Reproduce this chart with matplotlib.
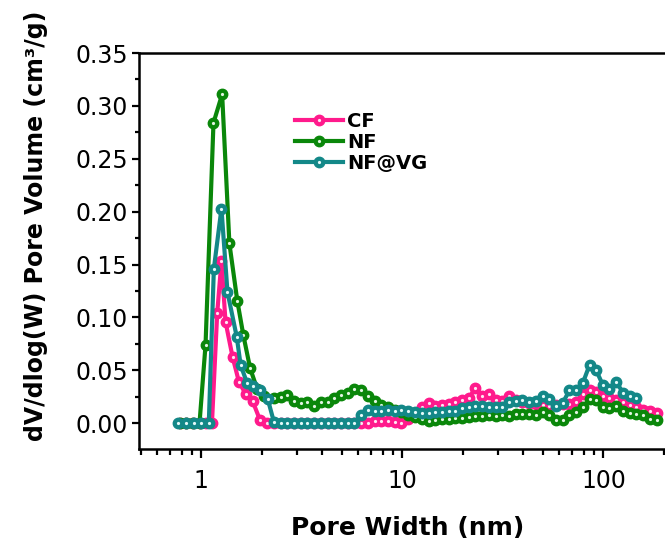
import matplotlib
matplotlib.use("Agg")
import matplotlib.pyplot as plt
from matplotlib.ticker import MultipleLocator, LogLocator, FuncFormatter, NullFormatter, FormatStrFormatter
from matplotlib.legend_handler import HandlerTuple

#pore widths (nm) shared by the tails of the three curves
grid_width = [2.13, 2.30, 2.48, 2.68, 2.89, 3.12, 3.37, 3.64, 3.93, 4.25,
              4.59, 4.96, 5.35, 5.78, 6.24, 6.74, 7.28, 7.86, 8.49, 9.17,
              9.90, 10.7, 11.5, 12.5, 13.5, 14.5, 15.7, 17.0, 18.3, 19.8,
              21.4, 23.1, 24.9, 26.9, 29.1, 31.4, 33.9, 36.6, 39.5, 42.7,
              46.1, 49.8, 53.8, 58.1, 62.7, 67.7, 73.2, 79.0, 85.3, 92.1,
              99.5, 107, 116, 125, 135, 146, 158, 170, 184]

#CF
cf_head_width = [0.78, 0.84, 0.91, 0.98, 1.06, 1.13, 1.20, 1.26, 1.32, 1.43, 1.54, 1.66, 1.80, 1.96]
cf_head = [0, 0, 0, 0, 0, 0, 0.104, 0.153, 0.096, 0.063, 0.039, 0.028, 0.021, 0.003]
cf_tail = [0, 0, 0, 0, 0, 0, 0, 0, 0, 0,
           0, 0, 0, 0, 0, 0, 0.002, 0.002, 0.002, 0.001,
           0.000, 0.004, 0.010, 0.015, 0.019, 0.016, 0.017, 0.018, 0.020, 0.022,
           0.024, 0.033, 0.026, 0.028, 0.022, 0.021, 0.026, 0.022, 0.020, 0.019,
           0.018, 0.017, 0.016, 0.017, 0.018, 0.018, 0.020, 0.028, 0.031, 0.030,
           0.026, 0.024, 0.022, 0.020, 0.017, 0.015, 0.013, 0.012, 0.010]

#NF
nf_head_width = [0.78, 0.84, 0.91, 0.98, 1.05, 1.15, 1.27, 1.38, 1.51, 1.62, 1.75, 1.90, 2.05]
nf_head = [0, 0, 0, 0, 0.074, 0.284, 0.311, 0.170, 0.116, 0.083, 0.052, 0.032, 0.026]
nf_tail = [0.024, 0.025, 0.027, 0.021, 0.019, 0.020, 0.016, 0.020, 0.020, 0.024,
           0.027, 0.029, 0.032, 0.031, 0.026, 0.021, 0.017, 0.015, 0.013, 0.011,
           0.008, 0.006, 0.004, 0.002, 0.003, 0.004, 0.004, 0.005, 0.005, 0.006,
           0.007, 0.007, 0.008, 0.007, 0.008, 0.007, 0.009, 0.009, 0.009, 0.008,
           0.011, 0.008, 0.003, 0.003, 0.008, 0.011, 0.015, 0.023, 0.022, 0.015,
           0.014, 0.016, 0.012, 0.010, 0.009, 0.008, 0.004, 0.003]

#NF@VG
vg_head_width = [0.77, 0.84, 0.915, 1.0, 1.09, 1.155, 1.26, 1.35, 1.50, 1.57, 1.69, 1.81, 1.96, 2.14, 2.30]
vg_head = [0, 0, 0, 0, 0, 0.146, 0.203, 0.124, 0.082, 0.055, 0.038, 0.035, 0.031, 0.023, 0.001]
vg_tail = [0, 0, 0, 0, 0, 0, 0, 0, 0, 0, 0, 0,
           0.008, 0.013, 0.012, 0.012, 0.013, 0.012, 0.013, 0.012, 0.011, 0.010,
           0.010, 0.011, 0.011, 0.012, 0.012, 0.014, 0.015, 0.016, 0.016, 0.015,
           0.015, 0.015, 0.020, 0.021, 0.022, 0.020, 0.021, 0.026, 0.023, 0.016,
           0.019, 0.031, 0.031, 0.038, 0.055, 0.050, 0.036, 0.032, 0.039, 0.029,
           0.026, 0.024]

cf_x = cf_head_width + grid_width
cf_y = cf_head + cf_tail
nf_x = nf_head_width + grid_width[1:]
nf_y = nf_head + nf_tail
vg_x = vg_head_width + grid_width[2:56]
vg_y = vg_head + vg_tail

fig = plt.figure(figsize=(6.65, 5.42), dpi=100)
ax = fig.add_axes([0.209, 0.1716, 0.8426, 0.7306])

#line with ball markers (colored ball + small light spot)
def draw(x, y, color, shine):
    line, = ax.plot(x, y, color=color, lw=3, marker='o', ms=7.5, mfc=color, mec=color)
    dot, = ax.plot(x, y, ls='none', marker='o', ms=2.3, mfc=shine, mec='none')
    return (line, dot)

h_cf = draw(cf_x, cf_y, '#FF1A8C', '#FFE6F2')
h_nf = draw(nf_x, nf_y, '#0A870A', '#E2F5E2')
h_vg = draw(vg_x, vg_y, '#138888', '#E4FAFA')

ax.set_xscale('log')
ax.set_xlim(0.49, 300)
ax.set_ylim(-0.0243, 0.35)

ax.xaxis.set_major_locator(LogLocator(base=10))
ax.xaxis.set_minor_locator(LogLocator(base=10, subs=(2, 3, 4, 5, 6, 7, 8, 9)))
ax.xaxis.set_major_formatter(FuncFormatter(lambda v, p: f"{v:g}"))
ax.xaxis.set_minor_formatter(NullFormatter())
ax.yaxis.set_major_locator(MultipleLocator(0.05))
ax.yaxis.set_minor_locator(MultipleLocator(0.025))
ax.yaxis.set_major_formatter(FormatStrFormatter('%.2f'))

for s in ax.spines.values():
    s.set_linewidth(1.8)
ax.spines['right'].set_visible(False)

ax.tick_params(axis='both', which='both', direction='out', width=1.6, labelsize=17, top=False, right=False)
ax.tick_params(axis='x', which='major', length=6.5, pad=8)
ax.tick_params(axis='x', which='minor', length=4)
ax.tick_params(axis='y', which='major', length=5, pad=3)
ax.tick_params(axis='y', which='minor', length=3)

fig.text(0.613, 0.0129, "Pore Width (nm)", fontsize=18, fontweight='bold', ha='center', va='baseline')
fig.text(43 / 665, 0.583, "dV/dlog(W) Pore Volume (cm³/g)", fontsize=17, fontweight='bold',
         rotation=90, rotation_mode='anchor', ha='center', va='baseline')

ax.legend([h_cf, h_nf, h_vg], ["CF", "NF", "NF@VG"], handler_map={tuple: HandlerTuple(ndivide=1)},
          loc='upper left', bbox_to_anchor=(0.4436, 0.7934), bbox_transform=fig.transFigure,
          frameon=False, prop={'weight': 'bold', 'size': 14}, handlelength=2.47, handletextpad=0.2,
          labelspacing=0.1, borderpad=0, borderaxespad=0, numpoints=1)

fig.savefig("out.png", dpi=100)
